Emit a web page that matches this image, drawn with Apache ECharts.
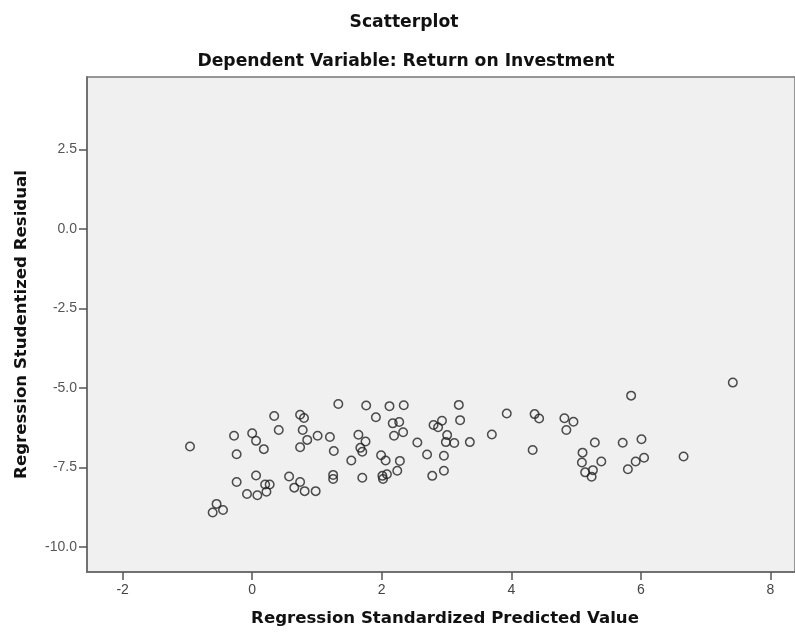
<!DOCTYPE html>
<html>
<head>
<meta charset="utf-8">
<script src="https://cdn.jsdelivr.net/npm/echarts@6/dist/echarts.min.js"></script>
<style>
html,body{margin:0;padding:0;background:#fff;overflow:hidden;width:795px;height:633px;}
#chart{position:absolute;left:0;top:0;width:795px;height:633px;}
</style>
</head>
<body>
<div id="chart"></div>
<script>
// Regression Standardized Predicted Value
var predicted = [
  -0.96, -0.28, -0.24, -0.24, -0.55, -0.61, -0.45, 0.00, 0.06, 0.18,
  0.06, -0.08, 0.08, 0.22, 0.20, 0.27, 0.34, 0.41, 0.74, 0.80,
  0.78, 0.85, 0.74, 1.01, 1.20, 1.26, 1.53, 0.57, 0.74, 0.65,
  0.81, 0.98, 1.25, 1.25, 1.33, 1.76, 1.64, 1.75, 1.67, 1.70,
  1.70, 2.12, 2.34, 1.91, 2.17, 2.27, 2.19, 2.33, 1.99, 2.06,
  2.28, 2.24, 2.08, 2.01, 2.02, 2.55, 2.70, 2.78, 2.96, 2.96,
  2.80, 2.87, 2.93, 3.19, 3.21, 3.01, 2.99, 3.12, 3.36, 3.70,
  3.93, 4.36, 4.43, 4.33, 7.42, 5.85, 4.82, 4.96, 4.85, 5.29,
  5.10, 5.09, 5.39, 5.14, 5.26, 5.24, 5.72, 6.01, 6.05, 5.92,
  5.80, 6.66
];
// Regression Studentized Residual
var residual = [
  -6.84, -6.50, -7.08, -7.95, -8.64, -8.91, -8.83, -6.42, -6.66, -6.92,
  -7.75, -8.33, -8.37, -8.26, -8.03, -8.03, -5.88, -6.32, -5.84, -5.94,
  -6.32, -6.63, -6.86, -6.50, -6.54, -6.98, -7.28, -7.78, -7.95, -8.13,
  -8.24, -8.24, -7.73, -7.86, -5.50, -5.55, -6.47, -6.68, -6.88, -7.00,
  -7.82, -5.57, -5.54, -5.92, -6.11, -6.07, -6.50, -6.39, -7.11, -7.28,
  -7.29, -7.60, -7.71, -7.76, -7.86, -6.71, -7.09, -7.76, -7.13, -7.60,
  -6.16, -6.23, -6.03, -5.53, -6.01, -6.48, -6.70, -6.73, -6.70, -6.46,
  -5.80, -5.82, -5.96, -6.95, -4.83, -5.24, -5.95, -6.06, -6.32, -6.71,
  -7.03, -7.34, -7.31, -7.65, -7.58, -7.79, -6.72, -6.61, -7.19, -7.31,
  -7.55, -7.15
];
var xTicks = [-2, 0, 2, 4, 6, 8];
var yTicks = [-10, -7.5, -5, -2.5, 0, 2.5];

var points = predicted.map(function (x, i) { return [x, residual[i]]; });

var boldFont = 'DejaVu Sans, Verdana, sans-serif';
var tickFont = 'Liberation Sans, Arial, sans-serif';

var chart = echarts.init(document.getElementById('chart'), null, {renderer: 'canvas', width: 795, height: 633});
chart.setOption({
  animation: false,
  backgroundColor: '#ffffff',
  title: [
    {
      text: 'Scatterplot',
      left: 399, top: 9, textAlign: 'center',
      textStyle: {fontFamily: boldFont, fontSize: 17.2, fontWeight: 'bold', color: '#111'}
    },
    {
      text: 'Dependent Variable: Return on Investment',
      left: 401, top: 48, textAlign: 'center',
      textStyle: {fontFamily: boldFont, fontSize: 17.2, fontWeight: 'bold', color: '#111'}
    }
  ],
  grid: {
    left: 87, top: 77, right: 0, bottom: 61,
    containLabel: false,
    outerBoundsMode: 'none',
    show: true, backgroundColor: '#f0f0f0', borderColor: '#777', borderWidth: 1.5
  },
  xAxis: {
    type: 'value',
    min: -2.55, max: 8.38,
    name: 'Regression Standardized Predicted Value',
    nameLocation: 'middle', nameGap: 38,
    nameTextStyle: {fontFamily: boldFont, fontSize: 16.6, fontWeight: 'bold', color: '#111', padding: [0, 0, 0, 8]},
    axisLine: {show: true, onZero: false, lineStyle: {color: '#666', width: 1.5}},
    axisTick: {show: true, length: 8, customValues: xTicks, lineStyle: {color: '#555', width: 1.5}},
    axisLabel: {customValues: xTicks, margin: 11, fontFamily: tickFont, fontSize: 14, color: '#444'},
    splitLine: {show: false}
  },
  yAxis: {
    type: 'value',
    min: -10.78, max: 4.77,
    name: 'Regression Studentized Residual',
    nameLocation: 'middle', nameGap: 57, nameRotate: 90,
    nameTextStyle: {fontFamily: boldFont, fontSize: 16.6, fontWeight: 'bold', color: '#111'},
    axisLine: {show: true, onZero: false, lineStyle: {color: '#666', width: 1.5}},
    axisTick: {show: true, length: 8, customValues: yTicks, lineStyle: {color: '#555', width: 1.5}},
    axisLabel: {
      customValues: yTicks, margin: 10,
      fontFamily: tickFont, fontSize: 14, color: '#555',
      formatter: function (v) { return v.toFixed(1); }
    },
    splitLine: {show: false}
  },
  series: [{
    type: 'scatter',
    data: points,
    symbol: 'circle',
    symbolSize: 8.5,
    itemStyle: {color: 'rgba(0,0,0,0)', borderColor: '#222', borderWidth: 1.5}
  }]
});
</script>
</body>
</html>
